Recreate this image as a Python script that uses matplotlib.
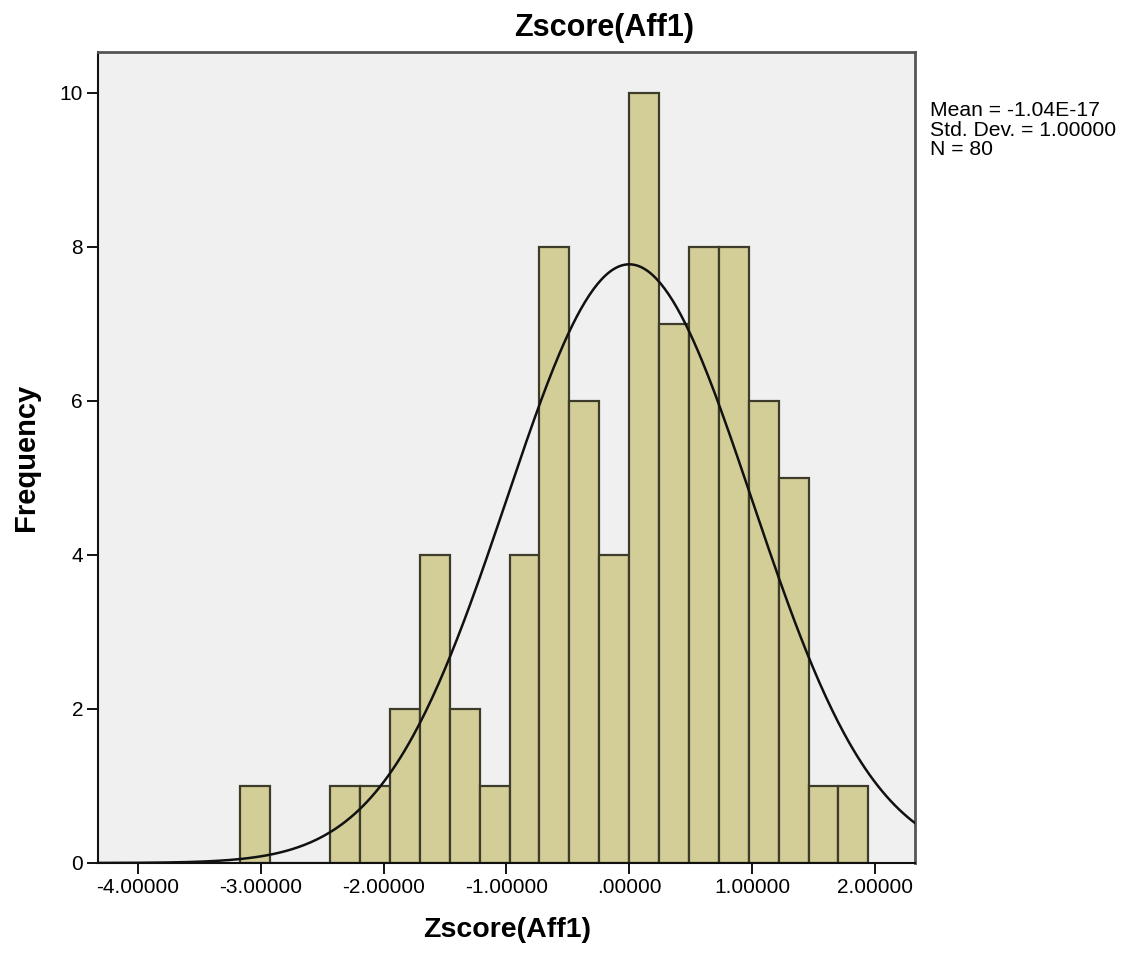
import matplotlib.pyplot as plt
import numpy as np

# ---- data ----
bin_start = -3.166
bin_width = 0.2435
counts = [1, 0, 0, 1, 1, 2, 4, 2, 1, 4, 8, 6, 4, 10, 7, 8, 8, 6, 5, 1, 1]
n_obs = 80
mean_z = -1.04e-17
sd_z = 1.0

x_ticks = [-4, -3, -2, -1, 0, 1, 2]
x_tick_labels = ['-4.00000', '-3.00000', '-2.00000', '-1.00000', '.00000', '1.00000', '2.00000']
y_ticks = [0, 2, 4, 6, 8, 10]

plt.rcParams['font.family'] = ['Liberation Sans', 'DejaVu Sans']

fig = plt.figure(figsize=(11.26, 9.56), dpi=100)
ax = fig.add_axes([0.0873, 0.0973, 0.7253, 0.8485])
ax.set_facecolor('#f0f0f0')

edges = bin_start + bin_width * np.arange(len(counts) + 1)
ax.bar(edges[:-1], counts, width=bin_width, align='edge',
       color='#d3ce97', edgecolor='#3d3b2a', linewidth=1.6, zorder=2)

# normal curve scaled to counts
xs = np.linspace(-4.4, 2.4, 400)
pdf = np.exp(-0.5 * ((xs - mean_z) / sd_z) ** 2) / (sd_z * np.sqrt(2 * np.pi))
ax.plot(xs, n_obs * bin_width * pdf, color='#111111', linewidth=1.8, zorder=3)

ax.set_xlim(-4.324, 2.327)
ax.set_ylim(0, 10.53)
ax.set_xticks(x_ticks)
ax.set_xticklabels(x_tick_labels)
ax.set_yticks(y_ticks)
ax.tick_params(axis='both', direction='out', length=8, width=1.3, labelsize=15, pad=3)

for side in ['left', 'bottom']:
    ax.spines[side].set_linewidth(1.5)
    ax.spines[side].set_color('#111111')
for side in ['top', 'right']:
    ax.spines[side].set_linewidth(2)
    ax.spines[side].set_color('#555555')

ax.set_xlabel('Zscore(Aff1)', fontsize=20.5, fontweight='bold', labelpad=14)
ax.set_ylabel('Frequency', fontsize=21, fontweight='bold', labelpad=14)
fig.text(0.5365, 0.971, 'Zscore(Aff1)', fontsize=22, fontweight='bold',
         ha='center', va='center')

fig.text(0.826, 0.864, 'Mean = -1.04E-17\nStd. Dev. = 1.00000\nN = 80',
         fontsize=15.2, ha='left', va='center', linespacing=1.05)

plt.savefig('out.png', dpi=100)
